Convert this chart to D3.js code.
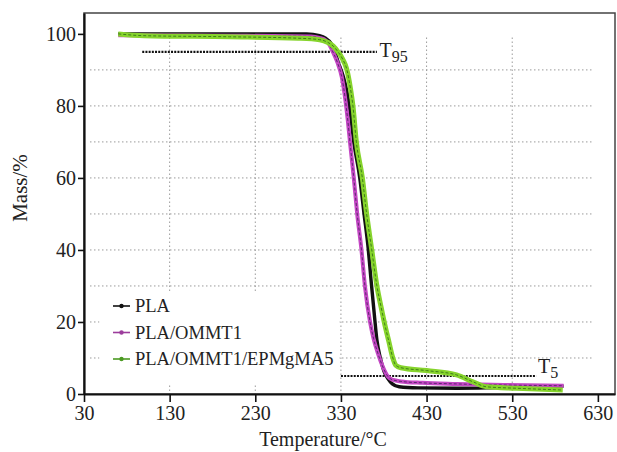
<!DOCTYPE html>
<html>
<head>
<meta charset="utf-8">
<script src="https://cdn.jsdelivr.net/npm/d3@7"></script>
<style>
    body { margin: 0; background: #fff; }
    svg { display: block; font-family: "Liberation Serif", "Times New Roman", serif; }
</style>
</head>
<body>
<svg id="chart" width="617" height="452"></svg>
<script>
(function() {
    'use strict';

    // temperature (°C) and mass (%)
    var plaTemp = [70, 200, 290, 305, 312, 318, 322, 327, 333, 337, 341, 345, 352, 357, 362, 365, 369, 372, 376, 380, 385, 390, 398, 420, 465, 500, 540, 590];
    var plaMass = [100, 100, 100, 99.5, 98.8, 97.5, 95.5, 92, 88, 84, 78, 70, 60, 50, 40, 32, 22, 15, 10, 6.5, 4.2, 2.8, 2.0, 1.7, 1.6, 1.7, 2.0, 2.2];

    var ommtTemp = [70, 200, 295, 305, 312, 316, 320, 326, 331, 335, 338, 341, 345, 349, 354, 358, 364, 368, 373, 379, 385, 391, 400, 425, 465, 520, 590];
    var ommtMass = [99.6, 99.5, 99.3, 98.9, 98.2, 97.2, 95.3, 92, 88, 82, 76, 69, 60, 50, 40, 30, 20, 15.5, 11.4, 7.5, 4.8, 3.9, 3.5, 3.1, 2.8, 2.5, 2.3];

    var epmTemp = [70, 100, 200, 280, 305, 315, 321, 326, 332, 337, 341, 344, 348, 355, 360, 366, 372, 377, 381, 386, 390, 394, 400, 430, 465, 484, 500, 535, 589];
    var epmMass = [100, 99.5, 99.2, 98.8, 98.4, 97.6, 96.6, 95.2, 93, 90, 85, 80, 70, 60, 50, 40, 30, 24, 19.5, 14.5, 10.5, 8.0, 7.3, 6.5, 5.3, 3.4, 2.0, 1.6, 1.1];

    var seriesNames = ['PLA', 'PLA/OMMT1', 'PLA/OMMT1/EPMgMA5'];
    var xTicks = [30, 130, 230, 330, 430, 530, 630];
    var yTicks = [0, 20, 40, 60, 80, 100];
    var xGrid = [130, 230, 330, 430, 530];
    var yGrid = [10, 20, 30, 40, 50, 60, 70, 80, 90];
    var t95 = { value: 95, from: 98, to: 372 };
    var t5 = { value: 5, from: 330, to: 558 };

    var svg = d3.select('#chart');

    var x = d3.scaleLinear().domain([30, 650]).range([84, 615]);
    var y = d3.scaleLinear().domain([0, 105.8]).range([394, 13]);

    var series = [
        { name: seriesNames[0], temp: plaTemp, mass: plaMass, color: '#111', width: 3.4, dash: null, mark: '#111' },
        { name: seriesNames[1], temp: ommtTemp, mass: ommtMass, color: '#c447c4', width: 4, dash: '#5a2a6e', mark: '#9c3c9c' },
        { name: seriesNames[2], temp: epmTemp, mass: epmMass, color: '#86d42c', width: 5, dash: '#3e7d1a', mark: '#4b9a22' }
    ];

    // grid
    var grid = svg.append('g')
        .attr('stroke', '#9a9a9a')
        .attr('stroke-width', 1)
        .attr('stroke-dasharray', '1.5,2.5');

    grid.selectAll('line.h')
        .data(yGrid)
        .enter().append('line')
        .attr('x1', x(37)).attr('x2', x(624))
        .attr('y1', function(d) { return y(d); })
        .attr('y2', function(d) { return y(d); });

    grid.selectAll('line.v')
        .data(xGrid)
        .enter().append('line')
        .attr('x1', function(d) { return x(d); })
        .attr('x2', function(d) { return x(d); })
        .attr('y1', y(99)).attr('y2', y(0));

    // legend background hides the grid behind it
    svg.append('rect')
        .attr('x', x(48)).attr('y', y(28.5))
        .attr('width', x(328) - x(48))
        .attr('height', y(2.5) - y(28.5))
        .attr('fill', '#fff');

    // frame
    svg.append('rect')
        .attr('x', x(30)).attr('y', y(105.8))
        .attr('width', x(650) - x(30))
        .attr('height', y(0) - y(105.8))
        .attr('fill', 'none')
        .attr('stroke', '#444')
        .attr('stroke-width', 1.5);

    // T95 / T5 guides
    [t95, t5].forEach(function(t) {
        svg.append('line')
            .attr('x1', x(t.from)).attr('x2', x(t.to))
            .attr('y1', y(t.value)).attr('y2', y(t.value))
            .attr('stroke', '#111')
            .attr('stroke-width', 2.2)
            .attr('stroke-dasharray', '2,1.2');
    });

    // curves
    var line = d3.line()
        .x(function(d) { return x(d[0]); })
        .y(function(d) { return y(d[1]); })
        .curve(d3.curveMonotoneX);

    series.forEach(function(s) {
        var pts = s.temp.map(function(t, i) { return [t, s.mass[i]]; });
        svg.append('path')
            .attr('d', line(pts))
            .attr('fill', 'none')
            .attr('stroke', s.color)
            .attr('stroke-width', s.width)
            .attr('stroke-linejoin', 'round');
        if (s.dash) {
            svg.append('path')
                .attr('d', line(pts))
                .attr('fill', 'none')
                .attr('stroke', s.dash)
                .attr('stroke-width', 1)
                .attr('stroke-dasharray', '3,2');
        }
    });

    // axes
    var xAxis = svg.append('g')
        .attr('transform', 'translate(0,' + y(0) + ')')
        .call(d3.axisBottom(x).tickValues(xTicks).tickSize(8).tickSizeOuter(0).tickPadding(4));
    var yAxis = svg.append('g')
        .attr('transform', 'translate(' + x(30) + ',0)')
        .call(d3.axisLeft(y).tickValues(yTicks).tickSize(6).tickSizeOuter(0).tickPadding(2));

    [xAxis, yAxis].forEach(function(a) {
        a.select('.domain').attr('stroke', '#111').attr('stroke-width', 2.2);
        a.selectAll('.tick line').attr('stroke', '#111').attr('stroke-width', 1.6);
        a.selectAll('.tick text')
            .attr('font-family', '"Liberation Serif", "Times New Roman", serif')
            .attr('font-size', 20)
            .attr('fill', '#222');
    });

    // axis titles
    svg.append('text')
        .attr('x', 323).attr('y', 446)
        .attr('text-anchor', 'middle')
        .attr('font-size', 20)
        .attr('fill', '#222')
        .text('Temperature/°C');

    svg.append('text')
        .attr('transform', 'translate(27,188) rotate(-90)')
        .attr('text-anchor', 'middle')
        .attr('font-size', 21)
        .attr('fill', '#222')
        .text('Mass/%');

    // T labels
    function tLabel(px, py, sub) {
        var t = svg.append('text')
            .attr('x', px).attr('y', py)
            .attr('font-size', 20)
            .attr('fill', '#222');
        t.append('tspan').text('T');
        t.append('tspan').attr('font-size', 16).attr('dy', 5).text(sub);
    }
    tLabel(x(375), y(95) + 5, '95');
    tLabel(x(560), y(5) - 3, '5');

    // legend
    var legend = svg.append('g')
        .selectAll('g')
        .data(series)
        .enter().append('g')
        .attr('transform', function(d, i) { return 'translate(113,' + (306 + i * 26.5) + ')'; });

    legend.append('line')
        .attr('x1', 0).attr('x2', 17)
        .attr('stroke', function(d) { return d.mark; })
        .attr('stroke-width', 1.6);
    legend.append('circle')
        .attr('cx', 8.5).attr('r', 2.2)
        .attr('fill', function(d) { return d.mark; });
    legend.append('text')
        .attr('x', 22).attr('dy', '0.35em')
        .attr('font-size', 18.5)
        .attr('fill', '#222')
        .text(function(d) { return d.name; });
}());
</script>
</body>
</html>
